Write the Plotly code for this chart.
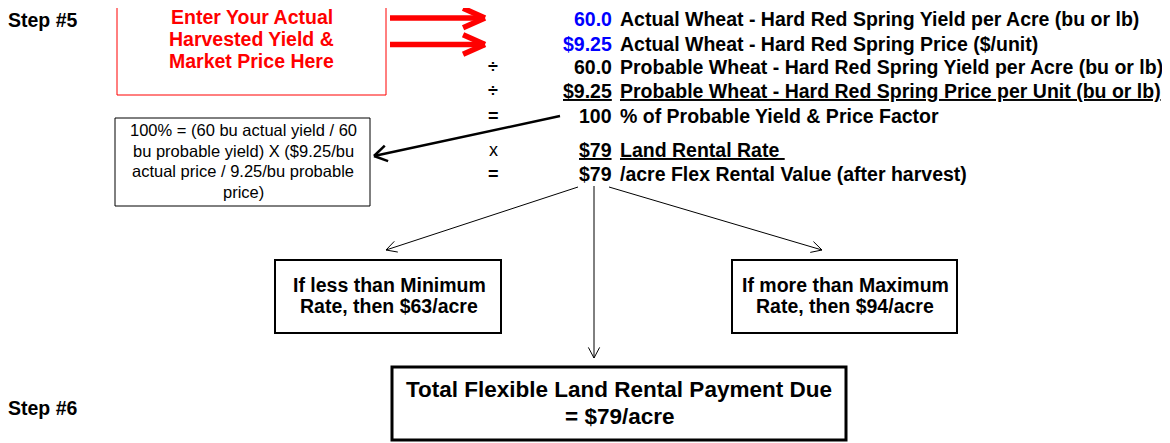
import math
import plotly.graph_objects as go

# ---- data ----
row_ops = ["", "", "÷", "÷", "=", "x", "="]
row_values = ["60.0", "$9.25", "60.0", "$9.25", "100", "$79", "$79"]
row_labels = [
    "Actual Wheat - Hard Red Spring Yield per Acre (bu or lb)",
    "Actual Wheat - Hard Red Spring Price ($/unit)",
    "Probable Wheat - Hard Red Spring Yield per Acre (bu or lb)",
    "Probable Wheat - Hard Red Spring Price per Unit (bu or lb)",
    "% of Probable Yield & Price Factor",
    "Land Rental Rate ",
    "/acre Flex Rental Value (after harvest)",
]
row_value_blue = [True, True, False, False, False, False, False]
row_underline = [False, False, False, True, False, True, False]
row_y = [19, 43.5, 67, 91, 115.5, 150, 174]

red_note = ["Enter Your Actual", "Harvested Yield &", "Market Price Here"]
calc_note = ["100% = (60 bu actual yield / 60", "bu probable yield) X ($9.25/bu",
             "actual price / 9.25/bu probable", "price)"]
min_note = ["If less than Minimum", "Rate, then $63/acre"]
max_note = ["If more than Maximum", "Rate, then $94/acre"]
total_note = ["Total Flexible Land Rental Payment Due", "= $79/acre"]
steps = ["Step #5", "Step #6"]

W, H = 1170, 443
OFF = 8  # page body margin
FONT = "Liberation Sans, Arial, sans-serif"

fig = go.Figure()
shapes = []
annots = []


def line(x0, y0, x1, y1, color="black", width=1):
    shapes.append(dict(type="line", x0=x0, y0=y0, x1=x1, y1=y1, xref="x", yref="y",
                       line=dict(color=color, width=width)))


def rect(x0, y0, x1, y1, color="black", width=1):
    shapes.append(dict(type="rect", x0=x0, y0=y0, x1=x1, y1=y1, xref="x", yref="y",
                       line=dict(color=color, width=width), fillcolor="rgba(0,0,0,0)"))


def arrow(x0, y0, x1, y1, color="black", width=1, head=10, spread=30):
    line(x0, y0, x1, y1, color, width)
    ang = math.atan2(y1 - y0, x1 - x0)
    for s in (-1, 1):
        a = ang + math.pi - s * math.radians(spread)
        line(x1, y1, x1 + head * math.cos(a), y1 + head * math.sin(a), color, width)


def text(x, y, s, size=15, color="black", bold=False, anchor="left", xshift=0):
    if bold:
        s = "<b>" + s + "</b>"
    annots.append(dict(x=x, y=y, xref="x", yref="y", text=s, showarrow=False,
                       xanchor=anchor, yanchor="middle", xshift=xshift,
                       font=dict(family=FONT, size=size, color=color)))


# steps
text(8, 20, steps[0], 19.5, bold=True, xshift=-2)
text(8, 408, steps[1], 19.5, bold=True, xshift=-2)

# red box + note
rect(117, -2, 386, 95, color="red", width=1)
for i, s in enumerate(red_note):
    text(251.5, 17 + i * 22, s, 19.5, color="red", bold=True, anchor="center")

# red arrows
arrow(390, 18, 485, 18, color="red", width=5.5, head=24, spread=24)
arrow(390, 44.5, 485, 44.5, color="red", width=5.5, head=24, spread=24)

# calculation rows
for op, v, lab, blue, ul, y in zip(row_ops, row_values, row_labels, row_value_blue, row_underline, row_y):
    if op:
        text(493, y, op, 18, bold=(op != "x"), anchor="center")
    vs = "<u>" + v + "</u>" if ul else v
    ls = "<u>" + lab + "</u>" if ul else lab
    text(614, y, vs, 19.5, color="blue" if blue else "black", bold=True, anchor="right")
    text(618, y, ls, 19.5, bold=True, anchor="left")

# calc note box
rect(115, 118, 370, 206, width=1)
for i, s in enumerate(calc_note):
    text(243, 130 + i * 20.5, s, 16.5, anchor="center")
arrow(560, 116, 374, 156, width=2.5, head=15, spread=32)

# branch arrows
arrow(578, 187, 386, 250, width=1, head=12, spread=28)
arrow(609, 187, 822, 250, width=1, head=12, spread=28)
arrow(594, 186, 594, 358, width=1, head=12, spread=28)

# min / max boxes
rect(275, 260, 501, 333, width=2)
for i, s in enumerate(min_note):
    text(389, 284.5 + i * 21.5, s, 19.5, bold=True, anchor="center")
rect(732, 260, 957, 333, width=2)
for i, s in enumerate(max_note):
    text(845, 284.5 + i * 21.5, s, 19.5, bold=True, anchor="center")

# total box
rect(392, 367, 846, 440, width=3)
for i, s in enumerate(total_note):
    text(619, 389 + i * 27, s, 22.5, bold=True, anchor="center")

fig.update_layout(
    width=W, height=H, margin=dict(l=0, r=0, t=0, b=0),
    paper_bgcolor="white", plot_bgcolor="white",
    xaxis=dict(range=[OFF, W + OFF], visible=False, fixedrange=True),
    yaxis=dict(range=[H + OFF, OFF], visible=False, fixedrange=True),
    shapes=shapes, annotations=annots, showlegend=False,
)
fig.write_html("out.html", config={"displayModeBar": False})
